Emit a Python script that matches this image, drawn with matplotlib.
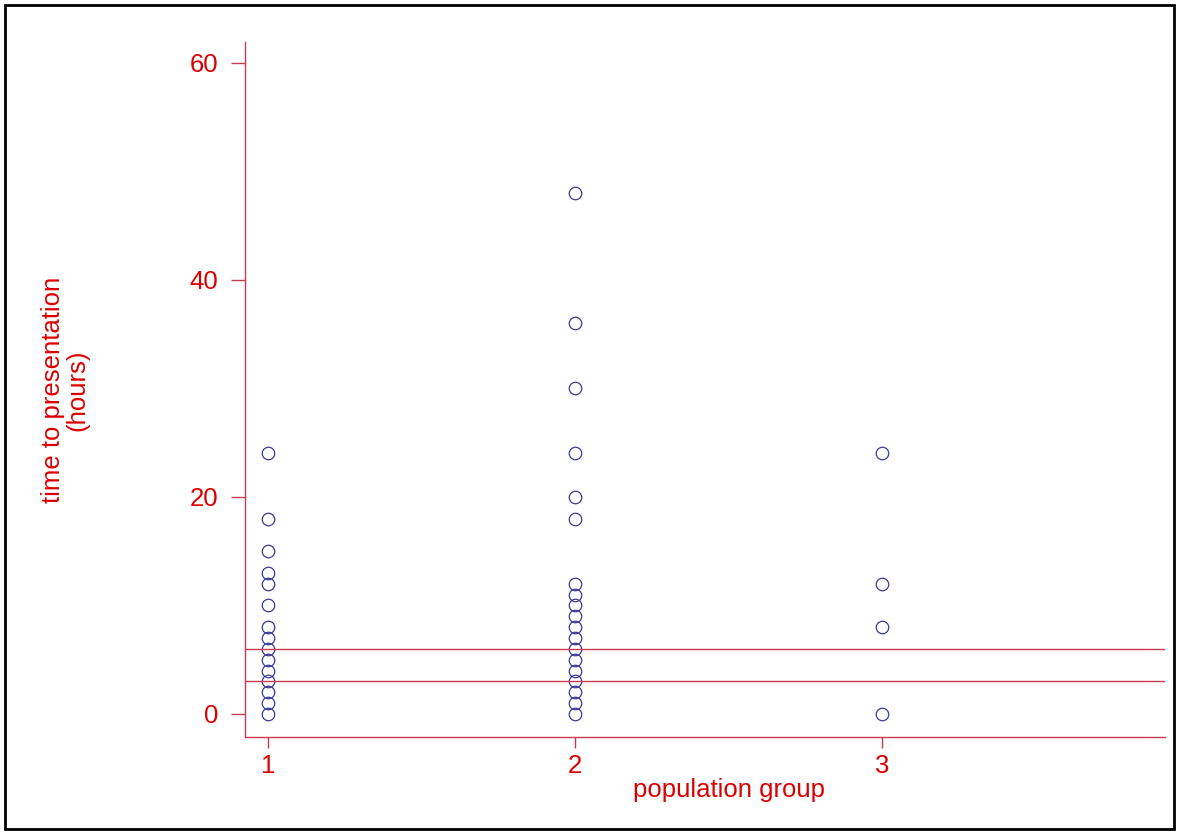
import numpy as np
import matplotlib.pyplot as plt
from matplotlib.patches import Rectangle

plt.rcParams['font.family'] = ['Liberation Sans', 'DejaVu Sans']

# time to presentation (hours) per population group
group1 = [24, 18, 15, 13, 12, 10, 8, 7, 6, 5, 4, 3, 2, 1, 0]
group2 = [48, 36, 30, 24, 20, 18, 12, 11, 10, 9, 8, 7, 6, 5, 4, 3, 2, 1, 0]
group3 = [24, 12, 8, 0]
groups = [1, 2, 3]
ref_lines = [6, 3]

red = '#dd0000'
axis_col = '#c83c50'

fig = plt.figure(figsize=(11.79, 8.34), dpi=100)
ax = fig.add_axes([0.2078, 0.1163, 0.7802, 0.8333])

for g, vals in zip(groups, [group1, group2, group3]):
    ax.plot([g] * len(vals), vals, linestyle='none', marker='o', markersize=9,
            markerfacecolor='none', markeredgecolor='#3a3a9a', markeredgewidth=0.9)

for v in ref_lines:
    ax.axhline(v, color=axis_col, linewidth=1)

ax.set_xlim(0.925, 3.92)
ax.set_ylim(-2.12, 61.9)
ax.set_xticks(groups)
ax.set_yticks([0, 20, 40, 60])

for side in ['top', 'right']:
    ax.spines[side].set_visible(False)
for side in ['left', 'bottom']:
    ax.spines[side].set_color(axis_col)
    ax.spines[side].set_linewidth(1)

ax.tick_params(colors=axis_col, labelcolor=red, labelsize=18.5, width=1)
ax.tick_params(axis='y', length=10, pad=9)
ax.tick_params(axis='x', length=8, pad=4)

ax.set_xlabel('population group', color=red, fontsize=18.5)
ax.xaxis.set_label_coords(0.526, -0.059)
ax.set_ylabel('time to presentation\n(hours)', color=red, fontsize=18.5, linespacing=1.05)
ax.yaxis.set_label_coords(-0.169, 0.499)

fig.patches.append(Rectangle((0.004, 0.006), 0.9915, 0.988, transform=fig.transFigure,
                             fill=False, edgecolor='black', linewidth=2))

fig.savefig('out.png', dpi=100)
